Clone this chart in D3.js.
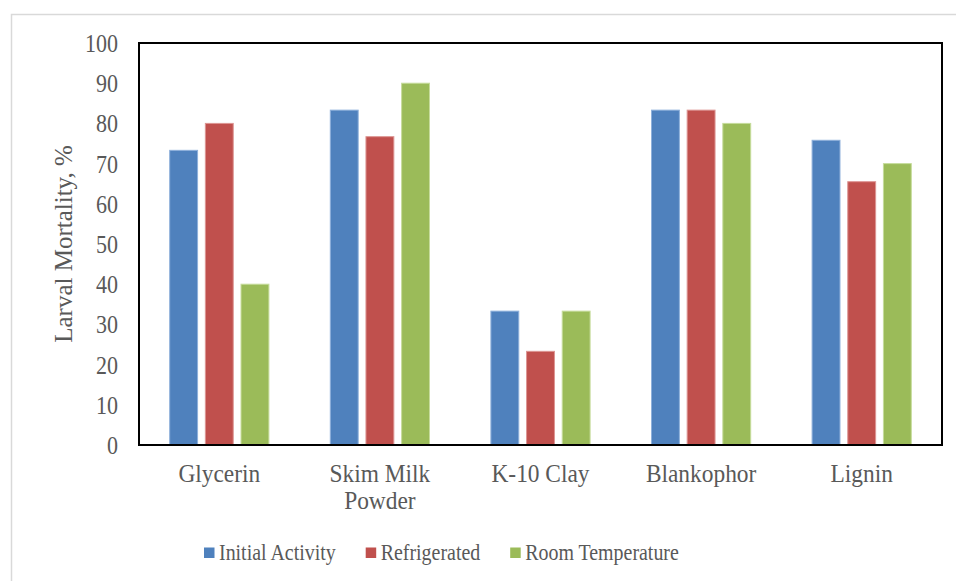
<!DOCTYPE html>
<html lang="en">
<head>
  <meta charset="UTF-8">
  <title>Larval Mortality</title>
  <script src="https://cdn.jsdelivr.net/npm/d3@7"></script>
</head>
<body style="margin:0;background:#fff;">
<script>
  const categories = ["Glycerin", "Skim Milk Powder", "K-10 Clay", "Blankophor", "Lignin"];
  const seriesNames = ["Initial Activity", "Refrigerated", "Room Temperature"];
  const initialActivity = [73.3, 83.3, 33.3, 83.3, 75.8];
  const refrigerated = [80, 76.7, 23.3, 83.3, 65.5];
  const roomTemperature = [40, 90, 33.3, 80, 70];
  const yTicks = [0, 10, 20, 30, 40, 50, 60, 70, 80, 90, 100];
  const colors = ["#4F81BD", "#C0504D", "#9BBB59"];
  const strokes = ["#8eb0db", "#dd9593", "#c6dc9c"];

  const seriesValues = [initialActivity, refrigerated, roomTemperature];
  const width = 956, height = 581;
  const m = {left: 139, right: 942, top: 43, bottom: 445};
  const font = "'Liberation Serif', 'Times New Roman', serif";
  const textColor = "#595959";

  const svg = d3.select("body").append("svg")
    .attr("width", width)
    .attr("height", height);

  // outer chart border
  svg.append("rect")
    .attr("x", 11.5).attr("y", 14.5)
    .attr("width", 1000).attr("height", 1000)
    .attr("fill", "none")
    .attr("stroke", "#d9d9d9")
    .attr("stroke-width", 1.5);

  const x0 = d3.scaleBand().domain(categories).range([m.left, m.right]);
  const x1 = d3.scaleBand().domain(seriesNames).range([-49.6, 49.6]).paddingInner(0.218);
  const y = d3.scaleLinear().domain([0, 100]).range([m.bottom, m.top]);

  // the source picture is a bit squeezed sideways, so text is drawn tall and narrowed
  const label = (sel, x, yy, size, sx, anchor) => sel.append("text")
    .attr("transform", `translate(${x}, ${yy}) scale(${sx}, 1)`)
    .attr("text-anchor", anchor)
    .attr("fill", textColor)
    .style("font-family", font)
    .style("font-size", size + "px");

  // bars
  categories.forEach((c, i) => {
    svg.append("g")
      .selectAll("rect")
      .data(seriesNames)
      .enter()
      .append("rect")
      .attr("x", s => x0(c) + x0.bandwidth() / 2 + x1(s))
      .attr("y", (s, j) => y(seriesValues[j][i]))
      .attr("width", x1.bandwidth())
      .attr("height", (s, j) => y(0) - y(seriesValues[j][i]))
      .attr("fill", (s, j) => colors[j])
      .attr("stroke", (s, j) => strokes[j])
      .attr("stroke-width", 1);
  });

  // y axis labels
  const yAxis = svg.append("g")
    .attr("transform", `translate(${m.left}, 0)`)
    .call(d3.axisLeft(y).tickValues(yTicks).tickSize(0).tickFormat(""));
  yAxis.select(".domain").remove();
  yAxis.selectAll(".tick").each(function (d) {
    label(d3.select(this), -21, 8.5, 25, 0.88, "end").text(d);
  });

  // x axis labels
  const xAxis = svg.append("g")
    .attr("transform", `translate(0, ${m.bottom})`)
    .call(d3.axisBottom(x0).tickSize(0).tickFormat(""));
  xAxis.select(".domain").remove();
  xAxis.selectAll(".tick").each(function (d) {
    const words = d === "Skim Milk Powder" ? ["Skim Milk", "Powder"] : [d];
    words.forEach((w, k) => {
      label(d3.select(this), 0, 36.5 + k * 27.5, 26, 0.9, "middle").text(w);
    });
  });

  // plot frame
  svg.append("rect")
    .attr("x", m.left).attr("y", m.top)
    .attr("width", m.right - m.left).attr("height", m.bottom - m.top)
    .attr("fill", "none")
    .attr("stroke", "#000")
    .attr("stroke-width", 2);

  // y title
  svg.append("text")
    .attr("transform", `translate(72, ${(m.top + m.bottom) / 2}) rotate(-90)`)
    .attr("text-anchor", "middle")
    .attr("fill", textColor)
    .style("font-family", font)
    .style("font-size", "25px")
    .text("Larval Mortality, %");

  // legend
  const legend = svg.append("g").attr("transform", "translate(204, 0)");
  let lx = 0;
  seriesNames.forEach((s, j) => {
    legend.append("rect")
      .attr("x", lx).attr("y", 547.5)
      .attr("width", 10.5).attr("height", 10.5)
      .attr("fill", colors[j]);
    const t = label(legend, lx + 15, 560, 24, 0.83, "start").text(s);
    lx += 15 + t.node().getComputedTextLength() * 0.83 + 30;
  });
</script>
</body>
</html>
